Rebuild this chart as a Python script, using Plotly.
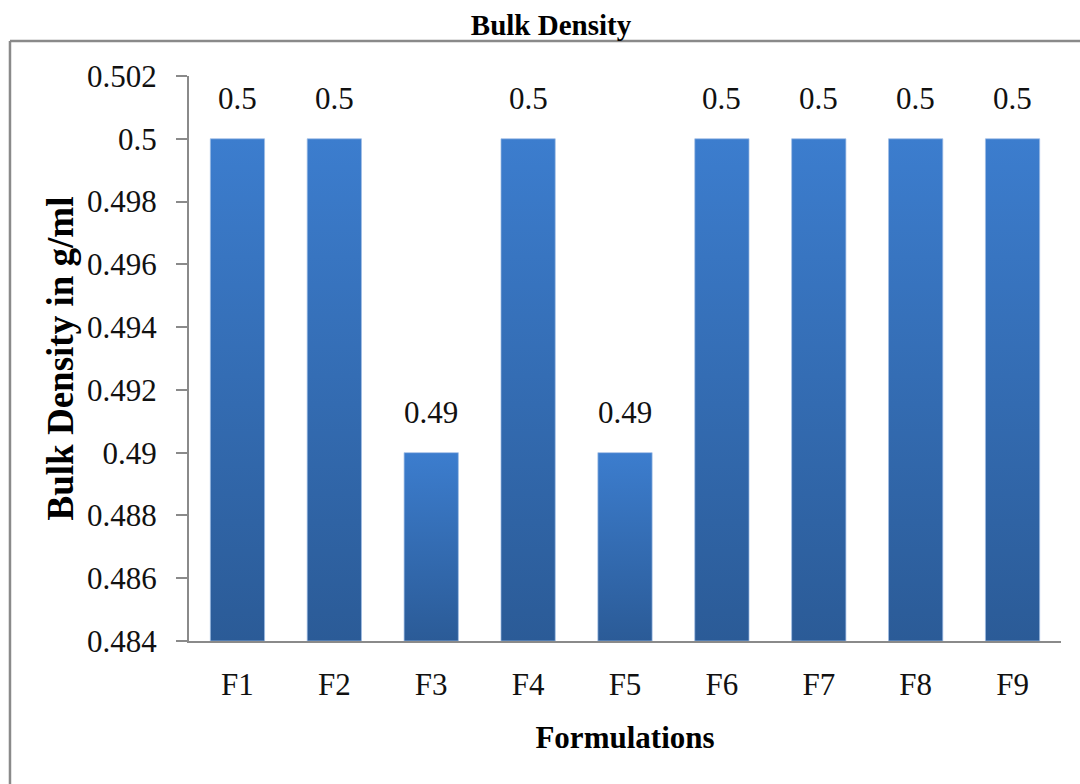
import plotly.graph_objects as go

# Bulk density of each formulation (g/ml)
formulations = ["F1", "F2", "F3", "F4", "F5", "F6", "F7", "F8", "F9"]
bulk_density = [0.50, 0.50, 0.49, 0.50, 0.49, 0.50, 0.50, 0.50, 0.50]
value_labels = ["0.5", "0.5", "0.49", "0.5", "0.49", "0.5", "0.5", "0.5", "0.5"]

# Value axis ticks
y_ticks = [0.484, 0.486, 0.488, 0.490, 0.492, 0.494, 0.496, 0.498, 0.500, 0.502]
y_tick_text = ["0.484", "0.486", "0.488", "0.49", "0.492", "0.494", "0.496", "0.498", "0.5", "0.502"]
y_min, y_max = 0.484, 0.502

FONT = "Liberation Serif, Times New Roman, serif"
BAR_WIDTH = 0.56
TOP_BLUE = "#3c7dce"
BOTTOM_BLUE = "#2b5b97"
AXIS_GREY = "#8a8a8a"

fig = go.Figure()

# Each column is a filled shape with a vertical gradient, rising from the axis floor
for i, (name, val) in enumerate(zip(formulations, bulk_density)):
    x0, x1 = i - BAR_WIDTH / 2, i + BAR_WIDTH / 2
    fig.add_trace(go.Scatter(
        x=[x0, x1, x1, x0, x0],
        y=[y_min, y_min, val, val, y_min],
        mode="lines",
        fill="toself",
        fillgradient=dict(type="vertical",
                          colorscale=[[0, BOTTOM_BLUE], [1, TOP_BLUE]]),
        line=dict(width=0.8, color="rgba(160,190,230,0.9)"),
        name=name,
        hovertemplate=f"{name}: {val}<extra></extra>",
        showlegend=False,
    ))

# Data labels above the columns
for i, (val, lab) in enumerate(zip(bulk_density, value_labels)):
    fig.add_annotation(
        x=i, y=val, text=lab, showarrow=False,
        yanchor="bottom", yshift=21,
        font=dict(family=FONT, size=31, color="#111111"),
    )

# Frame around the chart area (left and top edges)
fig.add_shape(type="line", xref="paper", yref="paper",
              x0=-0.2053, x1=1.05, y0=1.0619, y1=1.0619,
              line=dict(color=AXIS_GREY, width=2.5))
fig.add_shape(type="line", xref="paper", yref="paper",
              x0=-0.2053, x1=-0.2053, y0=1.0619, y1=-0.3,
              line=dict(color=AXIS_GREY, width=2.5))

fig.update_layout(
    width=1080, height=784,
    margin=dict(l=189, r=19, t=76, b=143),
    paper_bgcolor="white", plot_bgcolor="white",
    font=dict(family=FONT, color="#111111"),
    title=dict(text="<b>Bulk Density</b>", x=551 / 1080, xanchor="center",
               y=1 - 25 / 784, yanchor="middle", yref="container",
               font=dict(family=FONT, size=29, color="#000000")),
    xaxis=dict(
        range=[-0.5, len(formulations) - 0.5],
        tickmode="array", tickvals=list(range(len(formulations))),
        ticktext=formulations,
        ticks="", showgrid=False, zeroline=False,
        showline=True, linecolor=AXIS_GREY, linewidth=2,
        tickfont=dict(family=FONT, size=31, color="#111111"),
        ticklabelstandoff=15,
        title=dict(text="<b>Formulations</b>", standoff=25,
                   font=dict(family=FONT, size=31, color="#000000")),
        fixedrange=True,
    ),
    yaxis=dict(
        range=[y_min, y_max],
        tickmode="array", tickvals=y_ticks, ticktext=y_tick_text,
        ticks="outside", ticklen=11, tickwidth=2, tickcolor=AXIS_GREY,
        showgrid=False, zeroline=False,
        showline=True, linecolor=AXIS_GREY, linewidth=2,
        tickfont=dict(family=FONT, size=31, color="#111111"),
        ticklabelstandoff=13,
        title=dict(text="<b>Bulk Density in g/ml</b>", standoff=2,
                   font=dict(family=FONT, size=37, color="#000000")),
        fixedrange=True,
    ),
)

fig.write_html("out.html")
